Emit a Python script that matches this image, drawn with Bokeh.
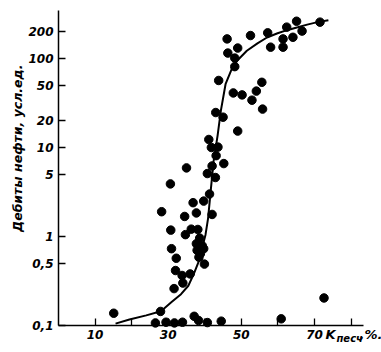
import math
from bokeh.plotting import figure
from bokeh.models import FixedTicker, Range1d, Label
from bokeh.embed import file_html
from bokeh.resources import INLINE

# Scatter points: sand coefficient (%), oil flow rate (conventional units)
k_sand = [46.1, 52.5, 57.2, 62.4, 65.1, 66.6, 71.5, 61.4, 64.1, 58.0, 61.4, 49.0, 46.3,
          48.2, 48.2, 43.8, 55.6, 47.8, 50.2, 54.1, 52.9, 55.8, 43.0, 45.0, 49.0, 41.1,
          41.8, 43.6, 43.1, 45.2, 42.0, 40.7, 42.9, 35.0, 30.6, 41.3, 39.7, 36.8, 28.2,
          37.7, 42.0, 34.5, 30.7, 36.3, 38.1, 34.7, 38.6, 37.7, 39.3, 37.9, 38.8, 38.4,
          39.7, 30.9, 32.2, 39.9, 32.0, 33.8, 36.0, 34.0, 31.6, 27.9, 15.1,
          26.5, 29.4, 31.7, 33.9, 37.1, 38.3, 40.7, 44.5, 60.9, 72.6]
flow = [166, 181, 194, 225, 262, 203, 256, 166, 173, 134, 134, 131, 115,
        101, 81, 56.6, 54, 41, 39, 43, 34, 27, 24.7, 21.9, 15.3, 12.3,
        10.0, 10.1, 8.1, 6.6, 6.2, 5.1, 4.6, 5.9, 3.9, 3.0, 2.5, 2.4, 1.9,
        1.84, 1.77, 1.68, 1.18, 1.21, 1.20, 1.05, 0.96, 0.83, 0.79, 0.70, 0.64, 0.585,
        0.73, 0.73, 0.57, 0.49, 0.415, 0.365, 0.38, 0.30, 0.26, 0.144, 0.1375,
        0.107, 0.109, 0.107, 0.109, 0.127, 0.114, 0.108, 0.112, 0.119, 0.204]

# Fitted curve
curve_k = [15.6, 19.4, 24.0, 28.0, 31.0, 33.5, 35.5, 37.0, 38.3, 39.3, 40.2, 40.9, 41.6,
           42.4, 43.5, 44.4, 45.7, 47.3, 48.9, 51.5, 54.4, 57.0, 59.9, 62.5, 65.4, 68.0,
           70.8, 73.8]
curve_q = [0.105, 0.117, 0.13, 0.145, 0.185, 0.225, 0.28, 0.38, 0.52, 0.75, 1.05, 1.6, 3.2,
           7.0, 13.6, 26, 52, 75, 95, 122, 148, 172, 192, 208, 224, 240, 256, 269]

x_ticks = [10, 20, 30, 40, 50, 60, 70, 80]
x_tick_labels = ["10", "", "30", "", "50", "", "70", ""]
y_ticks = [0.1, 0.5, 1, 5, 10, 20, 50, 100, 200]
y_tick_labels = ["0,1", "0,5", "1", "5", "10", "20", "50", "100", "200"]

# frame covers the whole canvas; axes are pinned inside it
p = figure(width=381, height=352, output_backend="svg", toolbar_location=None,
           y_axis_type="log", x_range=Range1d(-15.86, 88.32), y_range=Range1d(0.0498, 448),
           min_border=0)
p.outline_line_color = None
p.grid.visible = False
p.background_fill_color = "white"

p.line(curve_k, curve_q, line_color="black", line_width=2)
p.scatter(k_sand, flow, size=8.5, color="black")

FONT = "DejaVu Sans"
for ax in (p.xaxis[0], p.yaxis[0]):
    ax.axis_line_color = "black"
    ax.axis_line_width = 1.5
    ax.major_tick_line_color = "black"
    ax.major_tick_line_width = 1.3
    ax.major_tick_out = 0
    ax.major_tick_in = 7
    ax.minor_tick_line_color = None
    ax.major_label_text_font = FONT
    ax.major_label_text_font_style = "bold italic"
    ax.major_label_text_font_size = "12px"
    ax.major_label_text_color = "black"

p.xaxis.fixed_location = 0.1
p.xaxis.bounds = (0, 83.4)
p.xaxis.ticker = FixedTicker(ticks=x_ticks)
p.xaxis.major_label_overrides = {t: s for t, s in zip(x_ticks, x_tick_labels)}
p.xaxis.major_label_standoff = 4
p.yaxis.fixed_location = 0
p.yaxis.bounds = (0.1, 346)
p.yaxis.ticker = FixedTicker(ticks=y_ticks)
p.yaxis.major_label_overrides = {t: s for t, s in zip(y_ticks, y_tick_labels)}
p.yaxis.major_label_standoff = 5

common = dict(text_font=FONT, text_font_style="bold italic", text_color="black")
p.add_layout(Label(x=-11.3, y=9.8, text="Дебиты нефти, усл.ед.", angle=math.pi / 2,
                   text_align="center", text_baseline="middle", text_font_size="12.5px",
                   **common))
p.add_layout(Label(x=73.0, y=0.0661, text="K", text_align="left", text_baseline="bottom",
                   text_font_size="13px", **common))
p.add_layout(Label(x=76.0, y=0.0628, text="песч", text_align="left", text_baseline="bottom",
                   text_font_size="10px", **common))
p.add_layout(Label(x=82.3, y=0.0661, text=",%.", text_align="left", text_baseline="bottom",
                   text_font_size="13px", **common))

open("out.html", "w").write(file_html(p, INLINE))
